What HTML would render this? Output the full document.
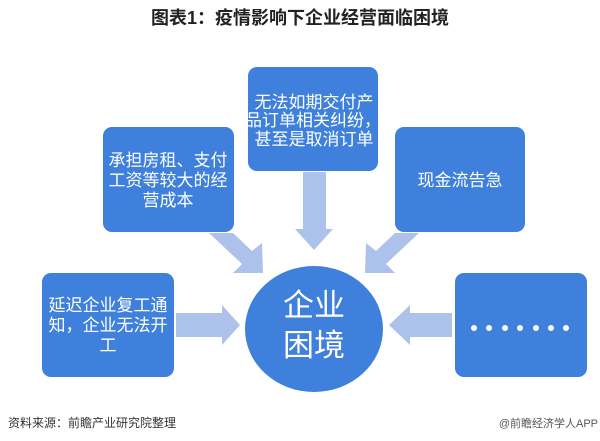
<!DOCTYPE html>
<html><head><meta charset="utf-8"><style>
html,body{margin:0;padding:0;background:#fff;}
svg{display:block;}
text{font-family:"Liberation Sans","Noto Sans CJK SC",sans-serif;}
</style></head><body>
<svg width="600" height="441" viewBox="0 0 600 441">
<text x="300" y="24" text-anchor="middle" font-size="18" font-weight="bold" fill="#222">图表1：疫情影响下企业经营面临困境</text>
<g fill="#adc2ea">
<polygon points="303,172 326,172 326,229 333,229 314,250 295,229 303,229"/>
<polygon points="176,313 222,313 222,305 240,325 222,345 222,337 176,337"/>
<polygon points="452,313 410,313 410,305 389,325 410,345 410,337 452,337"/>
<polygon points="209,233 233,233 252,251 262,243 263,273 233,273 242,264"/>
<polygon points="419,233 395,233 376,251 366,243 365,273 395,273 386,264"/>
</g>
<g fill="#3e80dc">
<rect x="248" y="67" width="130" height="104" rx="9"/>
<rect x="103" y="127" width="131" height="105" rx="9"/>
<rect x="395" y="127" width="130" height="105" rx="9"/>
<rect x="42" y="273" width="132" height="104" rx="9"/>
<rect x="455" y="273" width="132" height="104" rx="9"/>
<ellipse cx="314" cy="329" rx="69" ry="63"/>
</g>
<g fill="#fff" font-size="17" text-anchor="middle">
<text x="314" y="108">无法如期交付产</text>
<text x="313" y="126">品订单相关纠纷，</text>
<text x="314" y="145">甚至是取消订单</text>
<text x="168" y="166">承担房租、支付</text>
<text x="168" y="186">工资等较大的经</text>
<text x="168" y="206">营成本</text>
<text x="460" y="186">现金流告急</text>
<text x="108" y="311">延迟企业复工通</text>
<text x="108" y="331">知，企业无法开</text>
<text x="108" y="351">工</text>
<text x="314" y="316" font-size="31">企业</text>
<text x="314" y="356" font-size="31">困境</text>
</g>
<g fill="#fff">
<circle cx="474" cy="328" r="3"/><circle cx="489" cy="328" r="3"/><circle cx="505" cy="328" r="3"/><circle cx="520" cy="328" r="3"/><circle cx="536" cy="328" r="3"/><circle cx="551" cy="328" r="3"/><circle cx="566" cy="328" r="3"/>
</g>
<text x="8" y="427" font-size="12" fill="#333">资料来源：前瞻产业研究院整理</text>
<text x="598" y="427" font-size="11" fill="#555" text-anchor="end">@前瞻经济学人APP</text>
</svg>
</body></html>
